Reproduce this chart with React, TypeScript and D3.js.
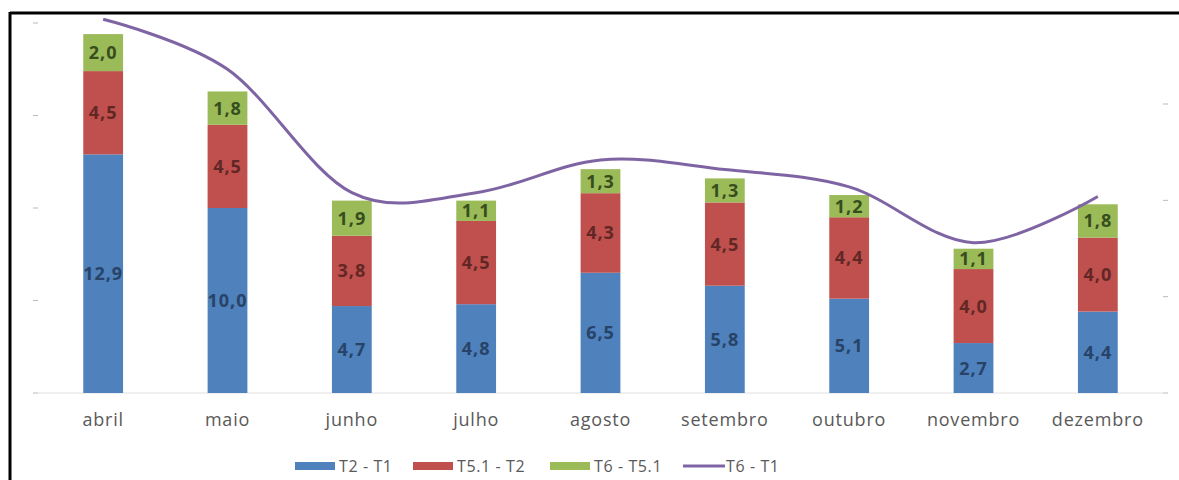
import React from 'react';
import { scaleBand, scaleLinear, stack, line, curveCardinal } from 'd3';

const months = ['abril', 'maio', 'junho', 'julho', 'agosto', 'setembro', 'outubro', 'novembro', 'dezembro'];
const t2t1 = [12.9, 10.0, 4.7, 4.8, 6.5, 5.8, 5.1, 2.7, 4.4];
const t51t2 = [4.5, 4.5, 3.8, 4.5, 4.3, 4.5, 4.4, 4.0, 4.0];
const t6t51 = [2.0, 1.8, 1.9, 1.1, 1.3, 1.3, 1.2, 1.1, 1.8];
const t6t1 = [19.4, 16.8, 10.4, 10.4, 12.1, 11.6, 10.7, 7.8, 10.2];
const leftTicks = [0, 5, 10, 15, 20];
const rightTicks = [0, 5, 10, 15];

const colors = ['#4f81bd', '#c0504d', '#9bbb59'];
const lineColor = '#7f64a4';

const W = 1179;
const H = 480;
const baseY = 393;

const App: React.FC = () => {
  const x = scaleBand<string>().domain(months).range([41, 1160]).paddingInner(0.68).paddingOuter(0.34);
  const yLeft = scaleLinear().domain([0, 20]).range([baseY, 23]);
  const yRight = scaleLinear().domain([0, 20]).range([baseY, 7.7]);

  const rows = months.map((m, i) => ({ m, s0: t2t1[i], s1: t51t2[i], s2: t6t51[i] }));
  const layers = stack<any>().keys(['s0', 's1', 's2'])(rows);

  const path = line<number>()
    .x((_, i) => x(months[i])! + x.bandwidth() / 2)
    .y(d => yRight(d))
    .curve(curveCardinal.tension(0))(t6t1);

  const fmt = (v: number) => v.toFixed(1).replace('.', ',');

  const legend = [
    { label: 'T2 - T1', x: 295, color: colors[0], kind: 'rect' },
    { label: 'T5.1 - T2', x: 413, color: colors[1], kind: 'rect' },
    { label: 'T6 - T5.1', x: 550, color: colors[2], kind: 'rect' },
    { label: 'T6 - T1', x: 683, color: lineColor, kind: 'line' },
  ];

  return (
    <svg width={W} height={H} style={{ position: 'absolute', left: 0, top: 0, background: '#fff' }}
      fontFamily="'Open Sans', 'DejaVu Sans', sans-serif">
      <rect x={0} y={0} width={W} height={H} fill="#fff" />
      {/* frame */}
      <line x1={10} x2={W} y1={13} y2={13} stroke="#000" strokeWidth={3} />
      <line x1={10} x2={10} y1={12} y2={H} stroke="#000" strokeWidth={3} />

      {/* axis ticks */}
      {leftTicks.map(t => (
        <line key={'l' + t} x1={33} x2={38} y1={yLeft(t)} y2={yLeft(t)} stroke="#bbb" strokeWidth={1} />
      ))}
      {rightTicks.map(t => (
        <line key={'r' + t} x1={1163} x2={1168} y1={yRight(t)} y2={yRight(t)} stroke="#bbb" strokeWidth={1} />
      ))}
      <line x1={35} x2={1166} y1={baseY} y2={baseY} stroke="#e0e0e0" strokeWidth={1} />

      {/* bars */}
      {layers.map((layer, li) => (
        <g key={li}>
          {layer.map((d, i) => (
            <rect key={i} x={x(months[i])} y={yLeft(d[1])} width={x.bandwidth()}
              height={yLeft(d[0]) - yLeft(d[1])} fill={colors[li]} />
          ))}
        </g>
      ))}
      {layers.map((layer, li) => (
        <g key={'t' + li}>
          {layer.map((d, i) => (
            <text key={i} x={x(months[i])! + x.bandwidth() / 2} y={(yLeft(d[0]) + yLeft(d[1])) / 2}
              dy="0.36em" textAnchor="middle" fontSize={18} fontWeight="bold" letterSpacing={1}
              fill={li === 2 ? '#1e3310' : li === 1 ? '#4a1e1c' : '#1e3452'} opacity={0.8}>
              {fmt(d[1] - d[0])}
            </text>
          ))}
        </g>
      ))}

      {/* line */}
      <path d={path!} fill="none" stroke={lineColor} strokeWidth={3} />

      {/* categories */}
      {months.map(m => (
        <text key={m} x={x(m)! + x.bandwidth() / 2} y={420} dy="0.35em" textAnchor="middle"
          fontSize={18} letterSpacing={0.8} fill="#595959">{m}</text>
      ))}

      {/* legend */}
      {legend.map(l => (
        <g key={l.label}>
          {l.kind === 'rect'
            ? <rect x={l.x} y={462} width={40} height={8} fill={l.color} />
            : <line x1={l.x} x2={l.x + 42} y1={466} y2={466} stroke={l.color} strokeWidth={3} />}
          <text x={l.x + (l.kind === 'rect' ? 44 : 43)} y={466} dy="0.35em" fontSize={16}
            letterSpacing={0.6} fill="#595959">{l.label}</text>
        </g>
      ))}
    </svg>
  );
};

export default App;
